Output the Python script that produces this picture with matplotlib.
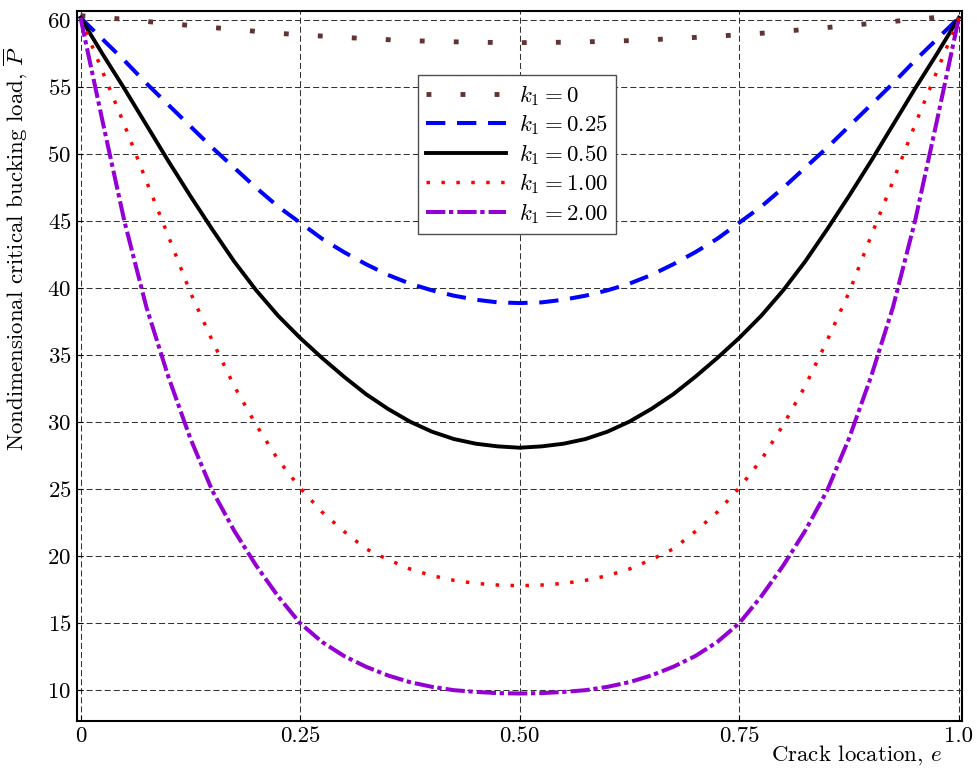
import numpy as np
import matplotlib
matplotlib.use("Agg")
import matplotlib.pyplot as plt

plt.rcParams['font.family'] = 'serif'
plt.rcParams['font.serif'] = ['cmr10']
plt.rcParams['mathtext.fontset'] = 'cm'
plt.rcParams['axes.formatter.use_mathtext'] = True

# crack location e, sampled every 0.025
e = np.linspace(0.0, 1.0, 41)

p_k0 = [60.35, 60.22, 60.08, 59.92, 59.77, 59.62, 59.47, 59.33, 59.18, 59.04, 58.92,
        58.83, 58.73, 58.64, 58.56, 58.49, 58.44, 58.40, 58.37, 58.35, 58.34,
        58.35, 58.37, 58.40, 58.44, 58.49, 58.56, 58.64, 58.73, 58.83, 58.92,
        59.04, 59.18, 59.33, 59.47, 59.62, 59.77, 59.92, 60.08, 60.22, 60.35]
p_k025 = [60.2, 58.6, 57.0, 55.3, 53.7, 52.1, 50.5, 49.0, 47.5, 46.1, 44.9,
          43.7, 42.7, 41.8, 41.0, 40.35, 39.85, 39.45, 39.15, 38.95, 38.9,
          38.95, 39.15, 39.45, 39.85, 40.35, 41.0, 41.8, 42.7, 43.7, 44.9,
          46.1, 47.5, 49.0, 50.5, 52.1, 53.7, 55.3, 57.0, 58.6, 60.2]
p_k050 = [60.2, 57.5, 54.9, 52.2, 49.5, 46.9, 44.4, 42.0, 39.85, 37.95, 36.3,
          34.8, 33.4, 32.1, 31.0, 30.05, 29.3, 28.75, 28.4, 28.2, 28.1,
          28.2, 28.4, 28.75, 29.3, 30.05, 31.0, 32.1, 33.4, 34.8, 36.3,
          37.95, 39.85, 42.0, 44.4, 46.9, 49.5, 52.2, 54.9, 57.5, 60.2]
p_k100 = [60.2, 56.2, 52.2, 48.0, 43.9, 39.7, 36.1, 32.7, 29.8, 27.2, 25.1,
          23.3, 21.85, 20.55, 19.75, 19.05, 18.55, 18.2, 17.97, 17.85, 17.8,
          17.85, 17.97, 18.2, 18.55, 19.05, 19.75, 20.55, 21.85, 23.3, 25.1,
          27.2, 29.8, 32.7, 36.1, 39.7, 43.9, 48.0, 52.2, 56.2, 60.2]
p_k200 = [60.2, 52.5, 45.0, 38.6, 33.4, 28.8, 24.9, 21.9, 19.3, 17.0, 15.0,
          13.6, 12.55, 11.75, 11.1, 10.6, 10.25, 10.0, 9.87, 9.78, 9.75,
          9.78, 9.87, 10.0, 10.25, 10.6, 11.1, 11.75, 12.55, 13.6, 15.0,
          17.0, 19.3, 21.9, 24.9, 28.8, 33.4, 38.6, 45.0, 52.5, 60.2]

labels = [r'$k_1 = 0$', r'$k_1 = 0.25$', r'$k_1 = 0.50$', r'$k_1 = 1.00$', r'$k_1 = 2.00$']

xticks = [0, 0.25, 0.5, 0.75, 1.0]
xticklabels = ['0', '0.25', '0.50', '0.75', '1.0']
yticks = [10, 15, 20, 25, 30, 35, 40, 45, 50, 55, 60]

fs = 16.5

fig = plt.figure(figsize=(9.77, 7.76), dpi=100)
ax = fig.add_axes([0.0788, 0.0709, 0.9058, 0.9149])

ax.plot(e, p_k0, color='#603434', lw=3.5, dashes=(1, 6.0), dash_capstyle='butt',
        solid_joinstyle='round', label=labels[0])
ax.plot(e, p_k025, color='#0000ff', lw=2.9, dashes=(4.8, 2.9), dash_capstyle='butt',
        dash_joinstyle='round', label=labels[1])
ax.plot(e, p_k050, color='black', lw=2.8, solid_joinstyle='round', label=labels[2])
ax.plot(e, p_k100, color='#ff0000', lw=2.5, dashes=(1, 3.3), dash_capstyle='butt',
        label=labels[3])
ax.plot(e, p_k200, color='#9400d3', lw=2.9, dashes=(4.8, 0.9, 1.07, 1.0), dash_capstyle='butt',
        dash_joinstyle='round', label=labels[4])

ax.set_xlim(-0.004, 1.0035)
ax.set_ylim(7.7, 60.7)
ax.set_xticks(xticks)
ax.set_xticklabels(xticklabels)
ax.set_yticks(yticks)
ax.tick_params(labelsize=fs, direction='in', length=4, width=0.8)
ax.tick_params(axis='x', pad=4)
ax.tick_params(axis='y', pad=4)

ax.grid(True, color='0.2', linestyle=(0, (5.8, 2.9)), lw=0.75)
for s in ax.spines.values():
    s.set_linewidth(1.5)

ax.set_xlabel(r'Crack location, $e$', fontsize=fs)
ax.xaxis.set_label_coords(0.881, -0.032)
ax.set_ylabel(r'Nondimensional critical bucking load, $\overline{P}$', fontsize=fs)
ax.yaxis.set_label_coords(-0.053, 0.666)

leg = ax.legend(loc='upper left', bbox_to_anchor=(0.385, 0.91), fontsize=fs,
                handlelength=3.5, handletextpad=0.57, labelspacing=0.2,
                borderpad=0.35, fancybox=False, framealpha=1, borderaxespad=0)
leg.get_frame().set_edgecolor('0.3')
leg.get_frame().set_linewidth(1.0)

plt.savefig('out.png', dpi=100)
